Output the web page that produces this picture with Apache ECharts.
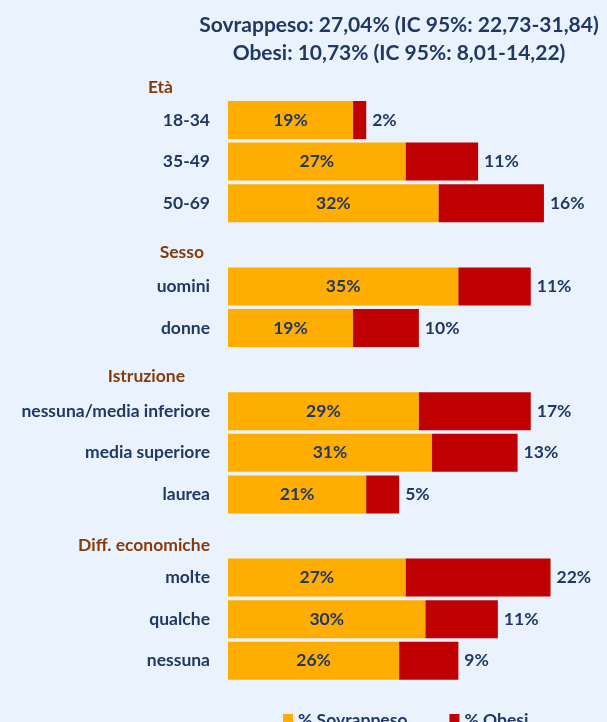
<!DOCTYPE html>
<html><head><meta charset="utf-8">
<script src="https://cdn.jsdelivr.net/npm/echarts@6/dist/echarts.min.js"></script>
<style>html,body{margin:0;padding:0;background:#EAF3FD;}#c{width:607px;height:722px;}</style>
</head><body><div id="c"></div>
<script>
const categories = ['Età','18-34','35-49','50-69','Sesso','uomini','donne','Istruzione','nessuna/media inferiore','media superiore','laurea','Diff. economiche','molte','qualche','nessuna'];
const groupHeaders = ['Età','Sesso','Istruzione','Diff. economiche'];
const sovrappeso = [null,19,27,32,null,35,19,null,29,31,21,null,27,30,26];
const obesi = [null,2,11,16,null,11,10,null,17,13,5,null,22,11,9];
const titleLines = ['Sovrappeso: 27,04% (IC 95%: 22,73-31,84)','Obesi: 10,73% (IC 95%: 8,01-14,22)'];
const seriesNames = ['% Sovrappeso','% Obesi'];

const navy = '#203864', brown = '#843C0C';
const FONT = 'Lato';
const FS = 17.5;
const chart = echarts.init(document.getElementById('c'));
const headerPad = {'Età':[17,37,0,0],'Sesso':[15,6,0,0],'Istruzione':[13,25,0,0],'Diff. economiche':[18,0,0,0]};
const rich = {};
groupHeaders.forEach((h,i)=>{ rich['h'+i] = {color:brown,fontWeight:'bold',fontSize:FS,fontFamily:FONT,padding:headerPad[h]}; });
rich.c = {color:navy,fontWeight:'bold',fontSize:FS,fontFamily:FONT};
chart.setOption({
  backgroundColor:'#EAF3FD',
  animation:false,
  title:{text:titleLines.join('\n'),left:394,top:6,textAlign:'center',
    textStyle:{color:navy,fontSize:21,fontWeight:'bold',fontFamily:FONT,lineHeight:28}},
  legend:{data:seriesNames,left:278,top:706,icon:'rect',itemWidth:10,itemHeight:12,itemGap:42,
    textStyle:{color:navy,fontWeight:'bold',fontSize:FS,fontFamily:FONT}},
  grid:{left:228,right:17,top:57.6,bottom:40.4},
  xAxis:{type:'value',min:0,max:55,show:false},
  yAxis:{type:'category',data:categories,inverse:true,
    axisLine:{show:false},axisTick:{show:false},
    axisLabel:{margin:18,formatter:(v)=>{const i=groupHeaders.indexOf(v);return i>=0?'{h'+i+'|'+v+'}':'{c|'+v+'}';},rich:rich}},
  series:[
    {name:seriesNames[0],type:'bar',stack:'t',data:sovrappeso,barWidth:38,
     itemStyle:{color:'#FFAE00'},
     label:{show:true,position:'inside',color:navy,fontWeight:'bold',fontSize:FS,fontFamily:FONT,formatter:p=>p.value+'%'}},
    {name:seriesNames[1],type:'bar',stack:'t',data:obesi,barWidth:38,
     itemStyle:{color:'#C00000'},
     label:{show:true,position:'right',distance:6,color:navy,fontWeight:'bold',fontSize:FS,fontFamily:FONT,formatter:p=>p.value+'%'}}
  ]
});
</script></body></html>
